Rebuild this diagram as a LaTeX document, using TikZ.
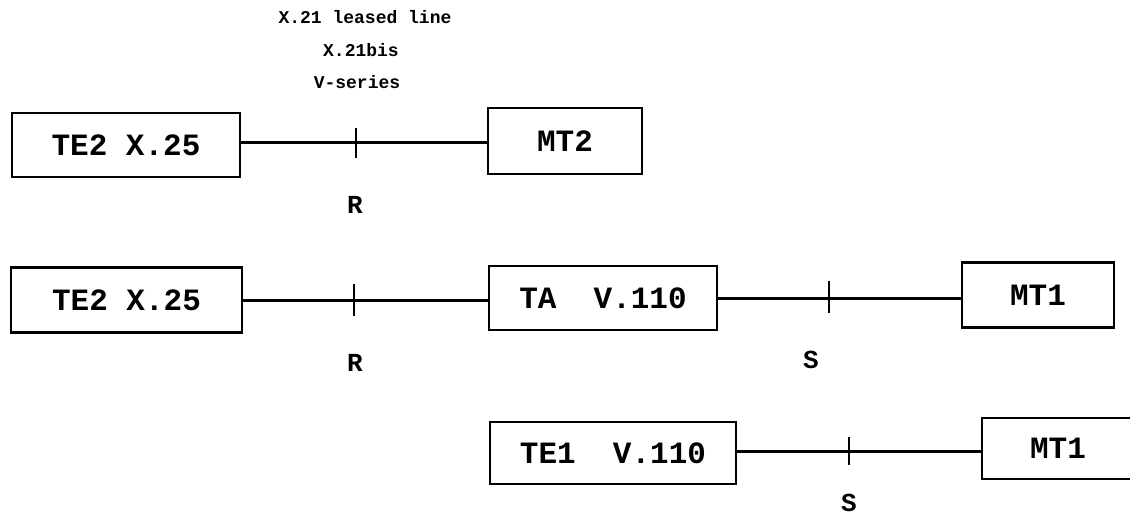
\documentclass[tikz,border=0pt]{standalone}
\usepackage{fontspec}
\setmainfont{Liberation Mono}
\begin{document}
\begin{tikzpicture}[x=1pt,y=-1pt,
  box/.style={draw,line width=2.6pt,inner sep=0pt,font=\fontsize{31}{31}\selectfont\bfseries},
  conn/.style={line width=3pt},
  tickmark/.style={line width=1.6pt},
  lbl/.style={inner sep=0pt,font=\fontsize{26}{26}\selectfont\bfseries},
  small/.style={inner sep=0pt,font=\fontsize{18}{18}\selectfont\bfseries}]
\useasboundingbox (0,0) rectangle (1130,517);
% top labels
\node[small] (t1) at (365,17) {X.21 leased line};
\node[small] (t2) at (361,50) {X.21bis};
\node[small] (t3) at (357,82) {V-series};
% row 1
\node[box,minimum width=228pt,minimum height=64pt] (a1) at (126,145) {TE2 X.25};
\node[box,minimum width=154pt,minimum height=66pt] (b1) at (565,141) {MT2};
\draw[conn] (a1.east |- 0,142) -- (b1.west |- 0,142);
\coordinate (k1) at (356,143);
\draw[tickmark] ([yshift=-15pt]k1) -- ([yshift=15pt]k1);
\node[lbl] (r1) at (355,205) {R};
% row 2
\node[box,minimum width=231pt,minimum height=65pt] (a2) at (126.5,300) {TE2 X.25};
\node[box,minimum width=228pt,minimum height=64pt] (b2) at (603,298) {TA\ \ V.110};
\node[box,minimum width=152pt,minimum height=65pt] (c2) at (1038,295) {MT1};
\draw[conn] (a2.east) -- (a2.east -| b2.west);
\draw[conn] (b2.east) -- (b2.east -| c2.west);
\coordinate (k2) at (354,300);
\coordinate (k3) at (829,297);
\draw[tickmark] ([yshift=-16pt]k2) -- ([yshift=16pt]k2);
\draw[tickmark] ([yshift=-16pt]k3) -- ([yshift=16pt]k3);
\node[lbl] (r2) at (355,363) {R};
\node[lbl] (s2) at (811,360) {S};
% row 3
\node[box,minimum width=246pt,minimum height=62pt] (a3) at (613,453) {TE1\ \ V.110};
\node[box,minimum width=152pt,minimum height=61pt] (b3) at (1058,448.5) {MT1};
\draw[conn] (a3.east |- 0,451) -- (b3.west |- 0,451);
\coordinate (k4) at (849,451);
\draw[tickmark] ([yshift=-14pt]k4) -- ([yshift=14pt]k4);
\node[lbl] (s3) at (849,503) {S};
\end{tikzpicture}
\end{document}
